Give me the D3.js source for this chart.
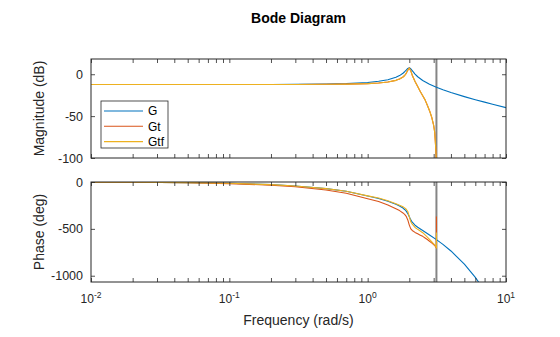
<!DOCTYPE html>
<html>
<head>
<meta charset="utf-8">
<script src="https://cdn.jsdelivr.net/npm/d3@7/dist/d3.min.js"></script>
<style>
  html, body { margin: 0; padding: 0; background: #fff; }
  svg { display: block; font-family: "Liberation Sans", Arial, Helvetica, sans-serif; }
</style>
</head>
<body>
<svg id="chart" width="560" height="337"></svg>
<script>
// ---------------- data ----------------
const seriesNames = ["G", "Gt", "Gtf"];
const seriesColors = ["#0072BD", "#D95319", "#EDB120"];
const nyquistFreq = 3.1416;

const freqG = [0.01,0.02,0.05,0.1,0.2,0.3,0.5,0.7,1,1.2,1.4,1.6,1.7,1.8,1.85,1.9,1.95,2,2.05,2.1,2.2,2.3,2.5,2.8,3.14,3.5,4,5,6,7,8,10];
const magG = [-12.3,-12.3,-12.3,-12.3,-12.2,-12.1,-11.7,-11.2,-9.8,-8.4,-6.5,-3.6,-1.6,1.2,3.0,5.0,6.9,7.7,6.5,4.4,0.2,-3.0,-7.5,-12.0,-15.6,-18.6,-21.8,-26.7,-30.4,-33.3,-35.8,-39.9];
const phaseG = [-1.4,-2.8,-7,-14,-28,-42,-71,-99,-150,-176,-206,-238,-256,-278,-293,-311,-337,-370,-404,-429,-461,-483,-518,-565,-615,-665,-736,-877,-1018,-1159,-1300,-1580];

const freqD = [0.01,0.02,0.05,0.1,0.2,0.3,0.5,0.7,1,1.2,1.4,1.6,1.7,1.8,1.85,1.9,1.95,2,2.05,2.1,2.2,2.3,2.4,2.5,2.6,2.7,2.8,2.9,3,3.05,3.08,3.11,3.13,3.1416,3.1416];
const magGt = [-12.3,-12.3,-12.3,-12.3,-12.3,-12.2,-12.0,-11.8,-11.2,-10.4,-9.3,-7.3,-5.7,-3.3,-1.5,1.1,4.7,7.5,4.0,-1.1,-8.6,-14.5,-20.6,-25.8,-30.6,-37,-43.5,-51,-61,-69,-79,-90,-100,-300,-300];
const magGtf = [-12.3,-12.3,-12.3,-12.3,-12.3,-12.2,-12.0,-11.8,-11.2,-10.4,-9.3,-7.3,-5.7,-3.3,-1.5,1.1,4.7,7.5,4.0,-1.1,-8.6,-14.5,-20.6,-25.8,-30.6,-37,-43.5,-51,-61,-69,-79,-90,-100,-300,-300];
const phaseGt = [-1.7,-3.4,-8.5,-17,-34,-51,-86,-120,-178,-208,-245,-285,-305,-330,-345,-367,-405,-460,-500,-517,-538,-553,-567,-580,-597,-614,-632,-650,-668,-678,-685,-694,-700,-705,-367];
const phaseGtf = [-1.4,-2.8,-7,-14,-28,-42,-70.5,-98.5,-148,-171,-200,-231,-247,-265,-276,-291,-315,-370,-424,-450,-485,-505,-523,-541,-565,-588,-612,-636,-660,-672,-680,-690,-697,-705,-540];

const xDomain = [0.01, 10];
const xMajorTicks = [0.01, 0.1, 1, 10];
const xTickExponents = ["-2", "-1", "0", "1"];
const magDomain = [-100, 18.2];
const magTicks = [-100, -50, 0];
const phaseDomain = [-1067, 0];
const phaseTicks = [-1000, -500, 0];

// ---------------- layout ----------------
const svg = d3.select("#chart");
const left = 91, right = 506;
const magTop = 59, magBottom = 158;
const phTop = 182, phBottom = 282;
const axisColor = "#262626";
const tickLen = 4;

const x = d3.scaleLog().domain(xDomain).range([left, right]);
const yMag = d3.scaleLinear().domain(magDomain).range([magBottom, magTop]);
const yPh = d3.scaleLinear().domain(phaseDomain).range([phBottom, phTop]);

// minor ticks for log axis
const minorTicks = [];
for (let e = -2; e < 1; e++) {
  for (let m = 2; m <= 9; m++) minorTicks.push(m * Math.pow(10, e));
}
const allXTicks = xMajorTicks.concat(minorTicks);

const defs = svg.append("defs");
function clip(id, top, bottom) {
  defs.append("clipPath").attr("id", id)
    .append("rect").attr("x", left).attr("y", top).attr("width", right - left).attr("height", bottom - top);
}
clip("clipMag", magTop, magBottom);
clip("clipPh", phTop, phBottom);

function drawPanel(yScale, top, bottom, yTicks, clipId, freqs, valueSets, showXLabels) {
  const g = svg.append("g");
  g.append("rect").attr("x", left).attr("y", top).attr("width", right - left).attr("height", bottom - top).attr("fill", "#fff");

  const plot = g.append("g").attr("clip-path", `url(#${clipId})`);
  // Nyquist line
  plot.append("line")
    .attr("x1", x(nyquistFreq)).attr("x2", x(nyquistFreq))
    .attr("y1", top).attr("y2", bottom)
    .attr("stroke", "#858585").attr("stroke-width", 2);

  const line = d3.line().x(d => x(d[0])).y(d => yScale(d[1]));
  valueSets.forEach((vals, i) => {
    const f = freqs[i];
    plot.append("path")
      .datum(vals.map((v, k) => [f[k], v]))
      .attr("d", line)
      .attr("fill", "none")
      .attr("stroke", seriesColors[i])
      .attr("stroke-width", 1.1)
      .attr("stroke-linejoin", "round");
  });

  const bAxis = d3.axisBottom(x).tickValues(allXTicks).tickSizeInner(-tickLen).tickSizeOuter(0).tickFormat("");
  const bG = g.append("g").attr("transform", `translate(0,${bottom})`).call(bAxis);
  const tAxis = d3.axisTop(x).tickValues(allXTicks).tickSizeInner(-tickLen).tickSizeOuter(0).tickFormat("");
  const tG = g.append("g").attr("transform", `translate(0,${top})`).call(tAxis);
  const lAxis = d3.axisLeft(yScale).tickValues(yTicks).tickSizeInner(-tickLen).tickSizeOuter(0).tickPadding(8)
    .tickFormat(d => String(d));
  const lG = g.append("g").attr("transform", `translate(${left},0)`).call(lAxis);
  const rAxis = d3.axisRight(yScale).tickValues(yTicks).tickSizeInner(-tickLen).tickSizeOuter(0).tickFormat("");
  const rG = g.append("g").attr("transform", `translate(${right},0)`).call(rAxis);

  [bG, tG, lG, rG].forEach(a => {
    a.select(".domain").remove();
    a.selectAll(".tick line").attr("stroke", axisColor).attr("stroke-width", 0.8);
  });
  lG.selectAll(".tick text").attr("fill", axisColor).style("font-size", "12.5px")
    .style("font-family", "'Liberation Sans', Arial, sans-serif");

  g.append("rect").attr("x", left).attr("y", top).attr("width", right - left).attr("height", bottom - top)
    .attr("fill", "none").attr("stroke", axisColor).attr("stroke-width", 1);

  if (showXLabels) {
    xMajorTicks.forEach((t, i) => {
      const txt = g.append("text")
        .attr("x", x(t)).attr("y", bottom + 21)
        .attr("text-anchor", "middle")
        .attr("fill", axisColor)
        .style("font-size", "12px");
      txt.append("tspan").text("10");
      txt.append("tspan").attr("dy", -5).style("font-size", "8.5px").text(xTickExponents[i]);
    });
  }
  return g;
}

drawPanel(yMag, magTop, magBottom, magTicks, "clipMag",
  [freqG, freqD, freqD], [magG, magGt, magGtf], false);
drawPanel(yPh, phTop, phBottom, phaseTicks, "clipPh",
  [freqG, freqD, freqD], [phaseG, phaseGt, phaseGtf], true);

// title & labels
svg.append("text").attr("x", (left + right) / 2).attr("y", 23).attr("text-anchor", "middle")
  .style("font-size", "14px").style("font-weight", "bold").attr("fill", "#000").text("Bode Diagram");
svg.append("text").attr("x", (left + right) / 2).attr("y", 325).attr("text-anchor", "middle")
  .style("font-size", "14px").attr("fill", axisColor).text("Frequency (rad/s)");
svg.append("text").attr("transform", `translate(44,${(magTop + magBottom) / 2}) rotate(-90)`)
  .attr("text-anchor", "middle").style("font-size", "14px").attr("fill", axisColor).text("Magnitude (dB)");
svg.append("text").attr("transform", `translate(44,${(phTop + phBottom) / 2}) rotate(-90)`)
  .attr("text-anchor", "middle").style("font-size", "14px").attr("fill", axisColor).text("Phase (deg)");

// legend
const lg = svg.append("g");
const lgX = 101, lgY = 101, lgW = 67, lgH = 47;
lg.append("rect").attr("x", lgX).attr("y", lgY).attr("width", lgW).attr("height", lgH)
  .attr("fill", "#fff").attr("stroke", axisColor).attr("stroke-width", 0.8);
seriesNames.forEach((n, i) => {
  const cy = lgY + 10 + i * 15.3;
  lg.append("line").attr("x1", lgX + 3).attr("x2", lgX + 42).attr("y1", cy).attr("y2", cy)
    .attr("stroke", seriesColors[i]).attr("stroke-width", 1.1);
  lg.append("text").attr("x", lgX + 47).attr("y", cy + 4.3).style("font-size", "12px")
    .attr("fill", "#000").text(n);
});
</script>
</body>
</html>
